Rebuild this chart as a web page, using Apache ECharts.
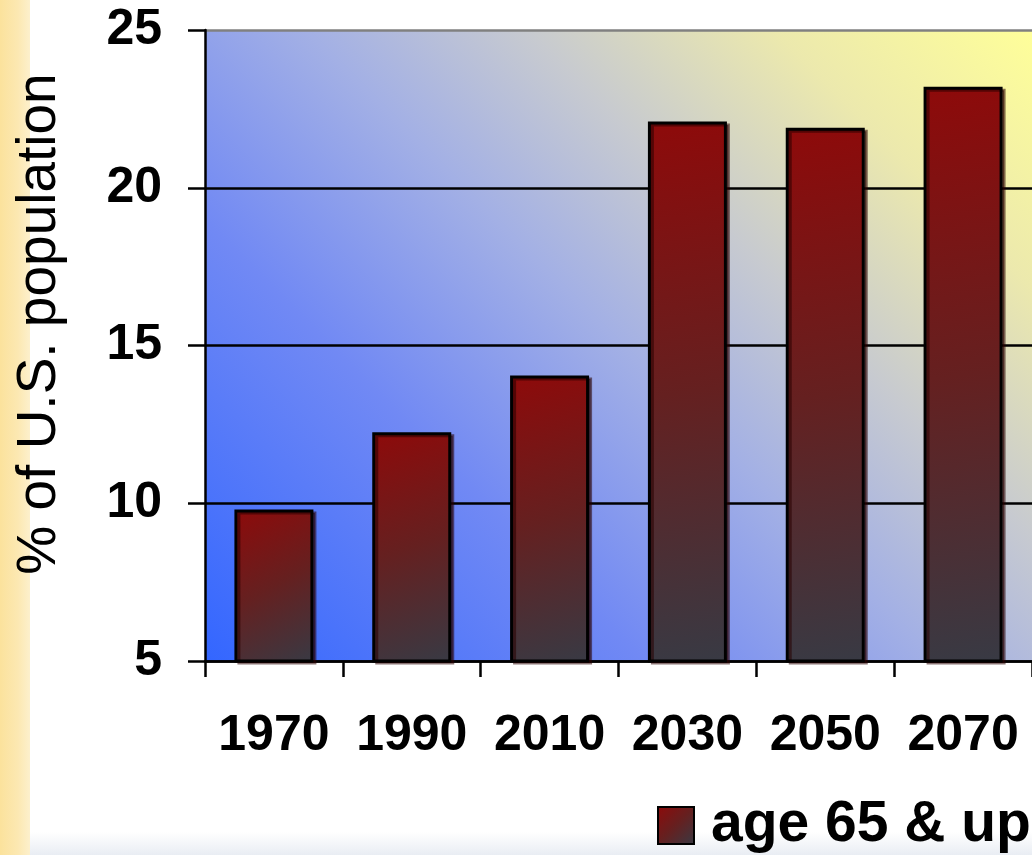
<!DOCTYPE html>
<html>
<head>
<meta charset="utf-8">
<script src="https://cdn.jsdelivr.net/npm/echarts@6/dist/echarts.min.js"></script>
<style>
  html, body { margin: 0; padding: 0; background: #fff; }
  #chart { width: 1032px; height: 855px; }
</style>
</head>
<body>
<div id="chart"></div>
<script>
// categories and values
var years = ['1970', '1990', '2010', '2030', '2050', '2070'];
var age65 = [9.8, 12.25, 14.05, 22.1, 21.9, 23.2];
var yTicks = { min: 5, max: 25, interval: 5 };
var seriesName = 'age 65 & up';
var yTitle = '% of U.S. population';

var font = '"Liberation Sans", Arial, sans-serif';

var chart = echarts.init(document.getElementById('chart'));

var barFill = new echarts.graphic.LinearGradient(0, 0, 1, 1, [
    { offset: 0, color: '#8e0a0a' },
    { offset: 0.5, color: '#652020' },
    { offset: 1, color: '#383a44' }
]);

// plot background, 45 degree gradient blue (bottom left) to yellow (top right)
var plotFill = new echarts.graphic.LinearGradient(205, 661, 937, -71, [
    { offset: 0, color: '#3366ff' },
    { offset: 0.3, color: '#7189f4' },
    { offset: 0.5, color: '#a3b0e5' },
    { offset: 0.65, color: '#c7cad0' },
    { offset: 0.82, color: '#ece9ad' },
    { offset: 1, color: '#ffff99' }
], true);

var option = {
    backgroundColor: '#ffffff',
    animation: false,
    grid: {
        left: 205,
        right: -7,
        top: 30,
        bottom: 194,
        show: true,
        borderWidth: 0,
        backgroundColor: plotFill
    },
    legend: {
        left: 657,
        top: 797,
        padding: 0,
        itemWidth: 36,
        itemHeight: 37,
        icon: 'rect',
        data: [seriesName],
        textStyle: {
            fontFamily: font,
            fontWeight: 'bold',
            fontSize: 57,
            color: '#000',
            padding: [0, 0, 0, 12]
        }
    },
    xAxis: {
        type: 'category',
        data: years,
        boundaryGap: true,
        axisLine: { lineStyle: { color: '#000', width: 2.5 } },
        axisTick: { show: true, interval: 0, length: 16, alignWithLabel: false, lineStyle: { color: '#000', width: 2.5 } },
        axisLabel: {
            interval: 0,
            margin: 50,
            fontFamily: font,
            fontWeight: 'bold',
            fontSize: 50,
            color: '#000'
        }
    },
    yAxis: {
        type: 'value',
        min: yTicks.min,
        max: yTicks.max,
        interval: yTicks.interval,
        axisLine: { show: true, lineStyle: { color: '#000', width: 2.5 } },
        axisTick: { show: true, length: 17, lineStyle: { color: '#000', width: 2.5 } },
        axisLabel: {
            margin: 43,
            fontFamily: font,
            fontWeight: 'bold',
            fontSize: 50,
            color: '#000'
        },
        splitLine: {
            show: true,
            lineStyle: { color: ['#000', '#000', '#000', '#000', '#808080'], width: 2.5 }
        }
    },
    series: [{
        name: seriesName,
        type: 'bar',
        data: age65,
        barWidth: 79,
        itemStyle: {
            color: barFill,
            borderColor: '#000',
            borderWidth: 3,
            shadowColor: 'rgba(40,0,0,0.55)',
            shadowOffsetX: 3,
            shadowOffsetY: 2,
            shadowBlur: 0
        }
    }],
    graphic: [
        {
            type: 'rect',
            left: 0, top: 0,
            shape: { width: 30, height: 855 },
            style: {
                fill: new echarts.graphic.LinearGradient(0, 0, 1, 0, [
                    { offset: 0, color: '#fbe29c' },
                    { offset: 0.6, color: '#fce8b2' },
                    { offset: 1, color: '#fdf0cc' }
                ])
            },
            z: -1
        },
        {
            type: 'rect',
            left: 30, top: 832,
            shape: { width: 1002, height: 23 },
            style: {
                fill: new echarts.graphic.LinearGradient(0, 0, 0, 1, [
                    { offset: 0, color: '#ffffff' },
                    { offset: 1, color: '#e9edf3' }
                ])
            },
            z: -1
        },
        {
            type: 'text',
            x: 40,
            y: 324,
            rotation: Math.PI / 2,
            style: {
                text: yTitle,
                fontFamily: font,
                fontSize: 55,
                fill: '#000',
                align: 'center',
                verticalAlign: 'middle'
            }
        }
    ]
};

chart.setOption(option);
</script>
</body>
</html>
